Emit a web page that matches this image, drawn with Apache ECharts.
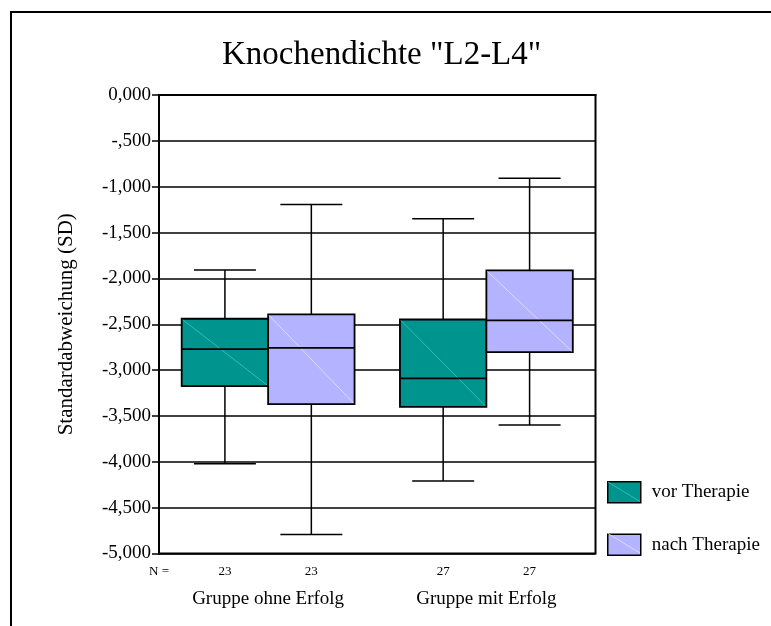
<!DOCTYPE html>
<html>
<head>
<meta charset="utf-8">
<script src="https://cdn.jsdelivr.net/npm/echarts@6/dist/echarts.min.js"></script>
<style>
  html, body { margin: 0; padding: 0; background: #fff; }
  #chart { width: 771px; height: 626px; }
</style>
</head>
<body>
<div id="chart"></div>
<script>
// Groups on the x axis
const groups = ['Gruppe ohne Erfolg', 'Gruppe mit Erfolg'];

// Box statistics per group: [lower whisker, Q1, median, Q3, upper whisker]
const vorTherapie = [
  [-4.02, -3.175, -2.771, -2.44, -1.909],
  [-4.21, -3.40, -3.091, -2.448, -1.349]
];
const nachTherapie = [
  [-4.793, -3.371, -2.757, -2.393, -1.193],
  [-3.60, -2.804, -2.458, -1.913, -0.909]
];

// Number of cases per box
const nVor = [23, 27];
const nNach = [23, 27];

// Y axis tick labels (German decimal style, from 0 down to -5)
const yTickLabels = ['0,000', '-,500', '-1,000', '-1,500', '-2,000', '-2,500',
  '-3,000', '-3,500', '-4,000', '-4,500', '-5,000'];

const serif = "'Liberation Serif', 'Times New Roman', serif";

function boxData(stats, counts) {
  return stats.map((s, i) => [i].concat(s).concat([counts[i]]));
}

// Draws one box with whiskers, median and the N label underneath.
function makeRenderer(side, diagColor) {
  return function (params, api) {
    const cat = api.value(0);
    const band = api.size([1, 0])[0];
    const boxW = band * 0.396;
    const capW = band * 0.284;
    const c = api.coord([cat, 0])[0];
    const cx = c + side * boxW / 2;
    const x0 = side < 0 ? c - boxW : c;
    const yLow = api.coord([cat, api.value(1)])[1];
    const yQ1 = api.coord([cat, api.value(2)])[1];
    const yMed = api.coord([cat, api.value(3)])[1];
    const yQ3 = api.coord([cat, api.value(4)])[1];
    const yHigh = api.coord([cat, api.value(5)])[1];
    const yAxisBottom = api.coord([cat, -5])[1];
    const ln = { stroke: '#000', lineWidth: 1.5 };
    const children = [
      { type: 'line', shape: { x1: cx, y1: yHigh, x2: cx, y2: yLow }, style: ln },
      { type: 'line', shape: { x1: cx - capW / 2, y1: yHigh, x2: cx + capW / 2, y2: yHigh }, style: ln },
      { type: 'line', shape: { x1: cx - capW / 2, y1: yLow, x2: cx + capW / 2, y2: yLow }, style: ln },
      { type: 'rect', shape: { x: x0, y: yQ3, width: boxW, height: yQ1 - yQ3 },
        style: { fill: api.visual('color'), stroke: '#000', lineWidth: 1.8 } },
      { type: 'line', shape: { x1: x0 + 1, y1: yQ3 + 1, x2: x0 + boxW - 1, y2: yQ1 - 1 },
        style: { stroke: diagColor, lineWidth: 0.8 } },
      { type: 'line', shape: { x1: x0, y1: yMed, x2: x0 + boxW, y2: yMed }, style: { stroke: '#000', lineWidth: 1.8 } },
      { type: 'text', x: cx, y: yAxisBottom + 18,
        style: { text: String(api.value(6)), fill: '#000', font: '13px ' + serif,
          textAlign: 'center', textVerticalAlign: 'middle' } }
    ];
    if (side < 0 && params.dataIndex === 0) {
      children.push({ type: 'text', x: api.coord([cat, -5])[0] - band / 2, y: yAxisBottom + 18,
        style: { text: 'N =', fill: '#000', font: '13px ' + serif,
          textAlign: 'center', textVerticalAlign: 'middle' } });
    }
    return { type: 'group', children: children };
  };
}

const chart = echarts.init(document.getElementById('chart'));
chart.setOption({
  backgroundColor: '#fff',
  animation: false,
  title: {
    text: 'Knochendichte "L2-L4"',
    left: 217, top: 34,
    textStyle: { fontFamily: serif, fontSize: 33, fontWeight: 'normal', color: '#000' }
  },
  graphic: [
    { type: 'polyline', shape: { points: [[11, 700], [11, 12], [800, 12]] },
      style: { stroke: '#000', lineWidth: 2, fill: null }, silent: true },
    { type: 'line', shape: { x1: 608, y1: 482, x2: 640, y2: 501.5 },
      style: { stroke: '#40c4c0', lineWidth: 0.8 }, silent: true, z: 100 },
    { type: 'line', shape: { x1: 608, y1: 533.5, x2: 640, y2: 553 },
      style: { stroke: '#e4e4ff', lineWidth: 0.8 }, silent: true, z: 100 }
  ],
  legend: {
    orient: 'vertical',
    left: 607, top: 481, padding: 0,
    icon: 'rect',
    itemWidth: 33, itemHeight: 21, itemGap: 30,
    itemStyle: { borderColor: '#000', borderWidth: 1.5 },
    textStyle: { fontFamily: serif, fontSize: 19, color: '#000', padding: [0, 0, 0, 6] },
    data: ['vor Therapie', 'nach Therapie']
  },
  grid: {
    left: 159, top: 95, right: 175.5, bottom: 72.5,
    show: true, borderColor: '#000', borderWidth: 2, backgroundColor: 'transparent'
  },
  xAxis: {
    type: 'category',
    data: groups,
    axisLine: { lineStyle: { color: '#000', width: 2 } },
    axisTick: { alignWithLabel: true, length: 6, lineStyle: { color: '#000', width: 1.5 } },
    axisLabel: { fontFamily: serif, fontSize: 19, color: '#000', margin: 36 },
    splitLine: { show: false }
  },
  yAxis: {
    type: 'value',
    min: -5, max: 0, interval: 0.5,
    name: 'Standardabweichung (SD)',
    nameLocation: 'middle',
    nameGap: 82,
    nameRotate: 90,
    nameTextStyle: { fontFamily: serif, fontSize: 21, color: '#000' },
    axisLine: { show: true, lineStyle: { color: '#000', width: 2 } },
    axisTick: { show: true, length: 7, lineStyle: { color: '#000', width: 1.5 } },
    axisLabel: {
      fontFamily: serif, fontSize: 19, color: '#000', margin: 8,
      formatter: function (v) { return yTickLabels[Math.round(-v / 0.5)]; }
    },
    splitLine: { show: true, lineStyle: { color: '#000', width: 1.5 } }
  },
  series: [
    {
      name: 'vor Therapie', type: 'custom',
      itemStyle: { color: '#00948f' },
      renderItem: makeRenderer(-1, '#40c4c0'),
      encode: { x: 0, y: [1, 2, 3, 4, 5] },
      data: boxData(vorTherapie, nVor),
      z: 3
    },
    {
      name: 'nach Therapie', type: 'custom',
      itemStyle: { color: '#b3b3ff' },
      renderItem: makeRenderer(1, '#e4e4ff'),
      encode: { x: 0, y: [1, 2, 3, 4, 5] },
      data: boxData(nachTherapie, nNach),
      z: 4
    }
  ]
});
</script>
</body>
</html>
